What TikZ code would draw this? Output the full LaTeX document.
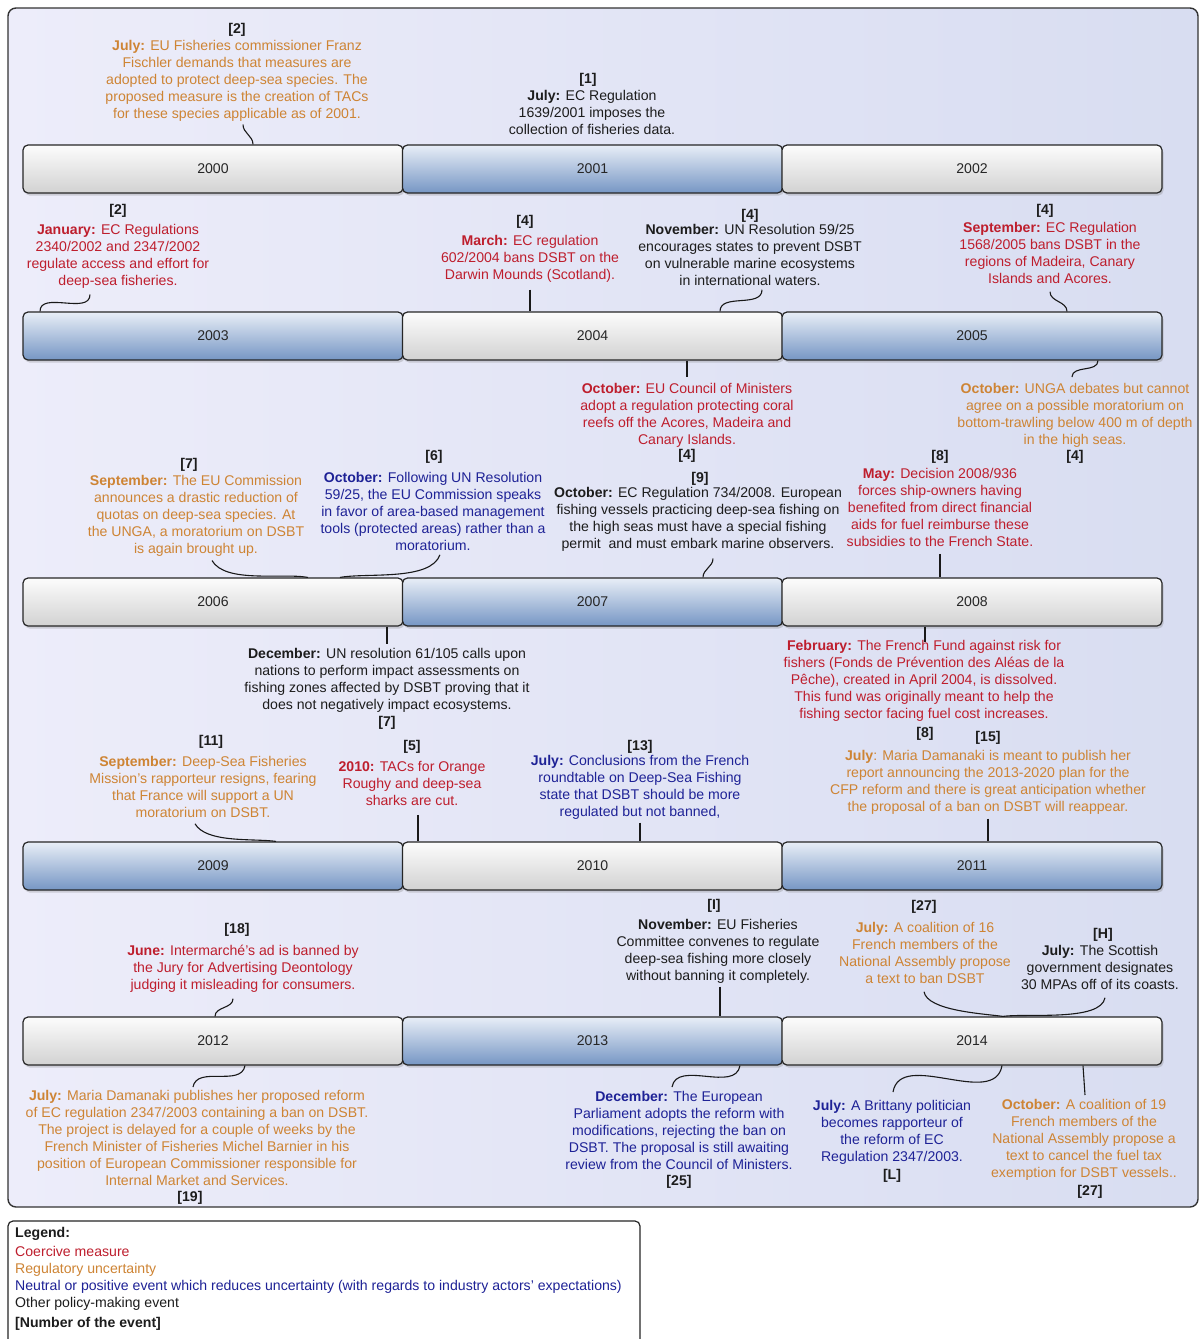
\documentclass[tikz,border=0pt]{standalone}
\usepackage{fontspec}
\setmainfont{Liberation Sans}
\usetikzlibrary{shadows}

\definecolor{cred}{RGB}{190,30,45}
\definecolor{corange}{RGB}{206,132,52}
\definecolor{cblue}{RGB}{30,34,150}
\definecolor{cblack}{RGB}{28,28,28}
\definecolor{panelL}{RGB}{237,237,250}
\definecolor{panelR}{RGB}{216,221,241}
\definecolor{greytop}{RGB}{252,252,252}
\definecolor{greybot}{RGB}{210,210,210}
\definecolor{bluetop}{RGB}{232,238,247}
\definecolor{bluebot}{RGB}{118,150,196}

\tikzset{
  ev/.style={font=\fontsize{14.1}{17}\selectfont, align=center, inner sep=0pt, anchor=north},
  evred/.style={ev, text=cred},
  evorange/.style={ev, text=corange},
  evblue/.style={ev, text=cblue},
  evblack/.style={ev, text=cblack},
  num/.style={font=\fontsize{14.1}{17}\selectfont\bfseries, inner sep=0pt, anchor=north, text=cblack},
  yearbar/.style={draw=black!85, line width=1.2pt, rounded corners=5pt,
    minimum width=380pt, minimum height=48pt, inner sep=0pt,
    font=\fontsize{14.1}{17}\selectfont, text=black!85,
    drop shadow={shadow xshift=1.5pt, shadow yshift=-2.5pt, opacity=0.3}},
  greybar/.style={yearbar, top color=greytop, bottom color=greybot},
  bluebar/.style={yearbar, top color=bluetop, bottom color=bluebot},
  conn/.style={draw=black!90, line width=1.1pt},
}

\begin{document}
\begin{tikzpicture}[x=1pt, y=-1pt]
\useasboundingbox (0,0) rectangle (1203,1339);
\fill[white] (0,0) rectangle (1203,1339);

% main panel
\draw[rounded corners=8pt, left color=panelL, right color=panelR, draw=black!80, line width=1.4pt]
  (8,8) rectangle (1198,1207);

% ---------- year bars ----------
\node[greybar] (Y2000) at (213,169) {2000};
\node[bluebar] (Y2001) at (592.5,169) {2001};
\node[greybar] (Y2002) at (972,169) {2002};

\node[bluebar] (Y2003) at (213,336) {2003};
\node[greybar] (Y2004) at (592.5,336) {2004};
\node[bluebar] (Y2005) at (972,336) {2005};

\node[greybar] (Y2006) at (213,602) {2006};
\node[bluebar] (Y2007) at (592.5,602) {2007};
\node[greybar] (Y2008) at (972,602) {2008};

\node[bluebar] (Y2009) at (213,866) {2009};
\node[greybar] (Y2010) at (592.5,866) {2010};
\node[bluebar] (Y2011) at (972,866) {2011};

\node[greybar] (Y2012) at (213,1041) {2012};
\node[bluebar] (Y2013) at (592.5,1041) {2013};
\node[greybar] (Y2014) at (972,1041) {2014};

% ---------- 2000-2002 ----------
\node[num] (L1a) at (237,23) {[2]};
\node[evorange] (B1a) at (237,40) {\textbf{July:} EU Fisheries commissioner Franz\\Fischler demands that measures are\\adopted to protect deep-sea species. The\\proposed measure is the creation of TACs\\for these species applicable as of 2001.};
\node[num] (L1b) at (588,73) {[1]};
\node[evblack] (B1b) at (592,90) {\textbf{July:} EC Regulation\\1639/2001 imposes the\\collection of fisheries data.};

\draw[conn] ([xshift=6pt,yshift=-3pt]B1a.south) to[out=-90,in=90] ([xshift=40pt]Y2000.north);

% ---------- 2003-2005 ----------
\node[num] (L2a) at (118,204) {[2]};
\node[evred] (B2a) at (118,224) {\textbf{January:} EC Regulations\\2340/2002 and 2347/2002\\regulate access and effort for\\deep-sea fisheries.};
\node[num] (L2b) at (525,215) {[4]};
\node[evred] (B2b) at (530,235) {\textbf{March:} EC regulation\\602/2004 bans DSBT on the\\Darwin Mounds (Scotland).};
\node[num] (L2c) at (750,209) {[4]};
\node[evblack] (B2c) at (750,224) {\textbf{November:} UN Resolution 59/25\\encourages states to prevent DSBT\\on vulnerable marine ecosystems\\in international waters.};
\node[num] (L2d) at (1045,204) {[4]};
\node[evred] (B2d) at (1050,222) {\textbf{September:} EC Regulation\\1568/2005 bans DSBT in the\\regions of Madeira, Canary\\Islands and Acores.};

\node[evred] (B2e) at (687,383) {\textbf{October:} EU Council of Ministers\\adopt a regulation protecting coral\\reefs off the Acores, Madeira and\\Canary Islands.};
\node[num] (L2e) at (687,449) {[4]};
\node[evorange] (B2f) at (1075,383) {\textbf{October:} UNGA debates but cannot\\agree on a possible moratorium on\\bottom-trawling below 400 m of depth\\in the high seas.};
\node[num] (L2f) at (1075,450) {[4]};

\draw[conn] ([xshift=-28pt,yshift=-6pt]B2a.south) to[out=-90,in=90] ([xshift=-173pt]Y2003.north);
\draw[conn] ([yshift=-7pt]B2b.south) -- ([xshift=-62.5pt]Y2004.north);
\draw[conn] ([xshift=12pt,yshift=-4pt]B2c.south) to[out=-90,in=90] ([xshift=127.5pt]Y2004.north);
\draw[conn] ([yshift=-8pt]B2d.south) to[out=-90,in=90] ([xshift=95pt]Y2005.north);
\draw[conn] ([xshift=94.5pt]Y2004.south) -- ([yshift=6pt]B2e.north);
\draw[conn] ([xshift=126pt]Y2005.south) to[out=-90,in=90] ([xshift=-3pt,yshift=6pt]B2f.north);

% ---------- 2006-2008 ----------
\node[num] (L3a) at (189,458) {[7]};
\node[evorange] (B3a) at (196,475) {\textbf{September:} The EU Commission\\announces a drastic reduction of\\quotas on deep-sea species. At\\the UNGA, a moratorium on DSBT\\is again brought up.};
\node[num] (L3b) at (434,450) {[6]};
\node[evblue] (B3b) at (433,472) {\textbf{October:} Following UN Resolution\\59/25, the EU Commission speaks\\in favor of area-based management\\tools (protected areas) rather than a\\moratorium.};
\node[num] (L3c) at (700,472) {[9]};
\node[evblack] (B3c) at (698,487) {\textbf{October:} EC Regulation 734/2008. European\\fishing vessels practicing deep-sea fishing on\\the high seas must have a special fishing\\permit\ \ and must embark marine observers.};
\node[num] (L3d) at (940,450) {[8]};
\node[evred] (B3d) at (940,468) {\textbf{May:} Decision 2008/936\\forces ship-owners having\\benefited from direct financial\\aids for fuel reimburse these\\subsidies to the French State.};

\node[evblack] (B3e) at (387,648) {\textbf{December:} UN resolution 61/105 calls upon\\nations to perform impact assessments on\\fishing zones affected by DSBT proving that it\\does not negatively impact ecosystems.};
\node[num] (L3e) at (387,716) {[7]};
\node[evred] (B3f) at (924,640) {\textbf{February:} The French Fund against risk for\\fishers (Fonds de Prévention des Aléas de la\\Pêche), created in April 2004, is dissolved.\\This fund was originally meant to help the\\fishing sector facing fuel cost increases.};
\node[num] (L3f) at (925,727) {[8]};

\draw[conn] ([xshift=16pt,yshift=-4pt]B3a.south) to[out=-60,in=170,looseness=0.7] ([xshift=95pt]Y2006.north);
\draw[conn] ([xshift=7pt,yshift=-4pt]B3b.south) to[out=-110,in=10,looseness=0.7] ([xshift=127pt]Y2006.north);
\draw[conn] ([xshift=15pt,yshift=-7pt]B3c.south) to[out=-90,in=90] ([xshift=110.5pt]Y2007.north);
\draw[conn] ([yshift=-7pt]B3d.south) -- ([xshift=-32pt]Y2008.north);
\draw[conn] ([xshift=174pt]Y2006.south) -- ([yshift=4pt]B3e.north);
\draw[conn] ([xshift=-47pt]Y2008.south) -- ([xshift=1pt,yshift=-2pt]B3f.north);

% ---------- 2009-2011 ----------
\node[num] (L4a) at (211,735) {[11]};
\node[evorange] (B4a) at (203,756) {\textbf{September:} Deep-Sea Fisheries\\Mission's rapporteur resigns, fearing\\that France will support a UN\\moratorium on DSBT.};
\node[num] (L4b) at (412,740) {[5]};
\node[evred] (B4b) at (412,761) {\textbf{2010:} TACs for Orange\\Roughy and deep-sea\\sharks are cut.};
\node[num] (L4c) at (640,740) {[13]};
\node[evblue] (B4c) at (640,755) {\textbf{July:} Conclusions from the French\\roundtable on Deep-Sea Fishing\\state that DSBT should be more\\regulated but not banned,};
\node[num] (L4d) at (988,731) {[15]};
\node[evorange] (B4d) at (988,750) {\textbf{July}: Maria Damanaki is meant to publish her\\report announcing the 2013-2020 plan for the\\CFP reform and there is great anticipation whether\\the proposal of a ban on DSBT will reappear.};

\draw[conn] ([xshift=-8pt,yshift=-6pt]B4a.south) to[out=-60,in=172,looseness=0.7] ([xshift=63pt]Y2009.north);
\draw[conn] ([xshift=6pt,yshift=-9pt]B4b.south) -- ([xshift=-174.5pt]Y2010.north);
\draw[conn] ([yshift=-3pt]B4c.south) -- ([xshift=47.5pt]Y2010.north);
\draw[conn] ([yshift=-4pt]B4d.south) -- ([xshift=16pt]Y2011.north);

% ---------- 2012-2014 ----------
\node[num] (L5a) at (237,923) {[18]};
\node[evred] (B5a) at (243,945) {\textbf{June:} Intermarché's ad is banned by\\the Jury for Advertising Deontology\\judging it misleading for consumers.};
\node[num] (L5b) at (714,899) {[I]};
\node[evblack] (B5b) at (718,919) {\textbf{November:} EU Fisheries\\Committee convenes to regulate\\deep-sea fishing more closely\\without banning it completely.};
\node[num] (L5c) at (924,900) {[27]};
\node[evorange] (B5c) at (925,922) {\textbf{July:} A coalition of 16\\French members of the\\National Assembly propose\\a text to ban DSBT};
\node[num] (L5d) at (1103,928) {[H]};
\node[evblack] (B5d) at (1100,945) {\textbf{July:} The Scottish\\government designates\\30 MPAs off of its coasts.};

\node[evorange] (B5e) at (197,1090) {\textbf{July:} Maria Damanaki publishes her proposed reform\\of EC regulation 2347/2003 containing a ban on DSBT.\\The project is delayed for a couple of weeks by the\\French Minister of Fisheries Michel Barnier in his\\position of European Commissioner responsible for\\Internal Market and Services.};
\node[num] (L5e) at (190,1191) {[19]};
\node[evblue] (B5f) at (679,1091) {\textbf{December:} The European\\Parliament adopts the reform with\\modifications, rejecting the ban on\\DSBT. The proposal is still awaiting\\review from the Council of Ministers.};
\node[num] (L5f) at (679,1175) {[25]};
\node[evblue] (B5g) at (892,1100) {\textbf{July:} A Brittany politician\\becomes rapporteur of\\the reform of EC\\Regulation 2347/2003.};
\node[num] (L5g) at (892,1169) {[L]};
\node[evorange] (B5h) at (1084,1099) {\textbf{October:} A coalition of 19\\French members of the\\National Assembly propose a\\text to cancel the fuel tax\\exemption for DSBT vessels..};
\node[num] (L5h) at (1090,1185) {[27]};

\coordinate (brace) at ([xshift=31pt]Y2014.north);
\draw[conn] ([xshift=-10pt,yshift=-6pt]B5a.south) to[out=-90,in=90] ([xshift=2pt]Y2012.north);
\draw[conn] ([xshift=2pt,yshift=-3pt]B5b.south) -- ([xshift=127.5pt]Y2013.north);
\draw[conn] ([xshift=-1pt,yshift=-8pt]B5c.south) to[out=-80,in=172,looseness=0.6] (brace);
\draw[conn] ([xshift=5pt,yshift=-8pt]B5d.south) to[out=-100,in=8,looseness=0.6] (brace);
\draw[conn] ([xshift=32pt]Y2012.south) to[out=-100,in=80] ([xshift=-4pt,yshift=3pt]B5e.north);
\draw[conn] ([xshift=147.5pt]Y2013.south) to[out=-100,in=80] ([xshift=-7pt,yshift=4pt]B5f.north);
\draw[conn] ([xshift=30pt]Y2014.south) to[out=-100,in=80] ([xshift=1pt,yshift=8pt]B5g.north);
\draw[conn] ([xshift=111pt]Y2014.south) -- ([xshift=1pt,yshift=4pt]B5h.north);

% ---------- legend ----------
\draw[rounded corners=5pt, fill=white, draw=black!85, line width=1.2pt] (8,1221) rectangle (640,1352);
\node[anchor=north west, align=left, inner sep=0pt, text=cblack,
      font=\fontsize{14.1}{17}\selectfont] (legend) at (15,1227)
  {\textbf{Legend:}\\[2pt]
   \textcolor{cred}{Coercive measure}\\
   \textcolor{corange}{Regulatory uncertainty}\\
   \textcolor{cblue}{Neutral or positive event which reduces uncertainty (with regards to industry actors' expectations)}\\
   Other policy-making event\\[3pt]
   \textbf{[Number of the event]}};
\end{tikzpicture}
\end{document}
